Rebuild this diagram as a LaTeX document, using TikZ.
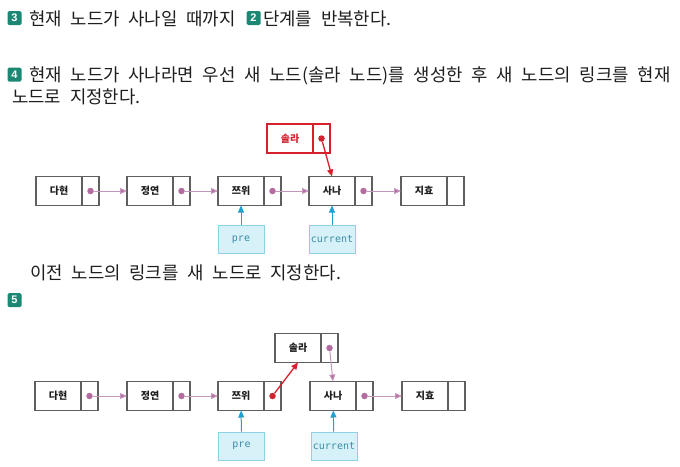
\documentclass[tikz,border=0pt]{standalone}
\usepackage{fontspec}
\setmainfont{Noto Sans CJK KR}
\newfontfamily\bodyfont{Noto Sans CJK KR}[WordSpace=2.2]
\setsansfont{Liberation Sans}
\setmonofont{DejaVu Sans Mono}
\usetikzlibrary{arrows.meta,positioning}
\definecolor{badgegreen}{RGB}{28,135,114}
\definecolor{boxgray}{RGB}{95,95,95}
\definecolor{textgray}{RGB}{30,30,30}
\definecolor{linkline}{RGB}{196,150,188}
\definecolor{linkdot}{RGB}{178,108,160}
\definecolor{solared}{RGB}{214,32,44}
\definecolor{ptrfill}{RGB}{214,241,248}
\definecolor{ptrdraw}{RGB}{140,210,228}
\definecolor{ptrtext}{RGB}{62,140,165}
\definecolor{ptrarrow}{RGB}{32,160,210}
\tikzset{node distance=2pt, auto}

\begin{document}
\begin{tikzpicture}[
  x=1pt, y=-1pt,
  txt/.style={anchor=base west, inner sep=0, text=textgray, font=\bodyfont\fontsize{17.8}{20}\selectfont},
  badge/.style={fill=badgegreen, rounded corners=1.5pt, minimum size=14pt, inner sep=0,
    text=white, font=\sffamily\bfseries\fontsize{11}{11}\selectfont},
  datum/.style={draw=boxgray, line width=1.8pt, outer sep=0, inner sep=0,
    minimum width=46pt, minimum height=29pt, text=textgray, font=\bfseries\fontsize{10}{12}\selectfont},
  link/.style={datum, minimum width=17pt},
  newdatum/.style={datum, draw=solared, text=solared},
  newlink/.style={link, draw=solared},
  ptrbox/.style={draw=ptrdraw, fill=ptrfill, line width=1pt, inner sep=0,
    minimum width=46pt, minimum height=28pt, text=ptrtext, font=\ttfamily\fontsize{10}{11}\selectfont},
  dot/.style={circle, fill=linkdot, inner sep=0, minimum size=6.5pt},
  reddot/.style={dot, fill=solared},
  nextarrow/.style={draw=linkline, line width=1pt, -{Triangle[length=7pt,width=6pt,fill=linkdot]}},
  redarrow/.style={draw=solared, line width=1.3pt, -{Triangle[length=7pt,width=6pt]}},
  ptrarrow/.style={draw=ptrarrow, line width=1pt, -{Triangle[length=7pt,width=6pt]}}
]
\useasboundingbox (0,0) rectangle (680,466);

\node[badge] (s3) at (14.5,18) {3};
\node[txt] (t3a) at (29,25.5) {현재 노드가 사나일 때까지};
\node[badge] (s2) at (253.5,18) {2};
\node[txt] (t3b) at (263,25.5) {단계를 반복한다.};

\node[badge] (s4) at (14.5,74.5) {4};
\node[txt] (t4a) at (29,81.5) {현재 노드가 사나라면 우선 새 노드(솔라 노드)를 생성한 후 새 노드의 링크를 현재};
\node[txt] (t4b) at (12,103) {노드로 지정한다.};

% step 4
\node[datum] (a1) at (59,191) {다현};
\node[link, right=0pt of a1] (ap1) {};
\node[datum] (a2) at (150,191) {정연};
\node[link, right=0pt of a2] (ap2) {};
\node[datum] (a3) at (241,191) {쯔위};
\node[link, right=0pt of a3] (ap3) {};
\node[datum] (a4) at (332,191) {사나};
\node[link, right=0pt of a4] (ap4) {};
\node[datum] (a5) at (424,191) {지효};
\node[link, right=0pt of a5] (ap5) {};
\node[newdatum] (as) at (290,138.5) {솔라};
\node[newlink, right=0pt of as] (asp) {};

\node[dot] (ak1) at (ap1) {};
\node[dot] (ak2) at (ap2) {};
\node[dot] (ak3) at (ap3) {};
\node[dot] (ak4) at (ap4) {};
\node[reddot] (aks) at (asp) {};
\draw[nextarrow] (ak1) -- (a2);
\draw[nextarrow] (ak2) -- (a3);
\draw[nextarrow] (ak3) -- (a4);
\draw[nextarrow] (ak4) -- (a5);
\draw[redarrow] (aks) -- (a4.north);

\node[ptrbox] (apre) at (241,239.5) {pre};
\node[ptrbox] (acur) at (332,239.5) {current};
\draw[ptrarrow] (apre) -- (a3);
\draw[ptrarrow] (acur) -- (a4);

\node[txt] (t4c) at (30,279) {이전 노드의 링크를 새 노드로 지정한다.};
\node[badge] (s5) at (14.5,300) {5};

% step 5
\node[datum] (b1) at (58,396) {다현};
\node[link, right=0pt of b1] (bp1) {};
\node[datum] (b2) at (150,396) {정연};
\node[link, right=0pt of b2] (bp2) {};
\node[datum] (b3) at (241,396) {쯔위};
\node[link, right=0pt of b3] (bp3) {};
\node[datum] (b4) at (333,396) {사나};
\node[link, right=0pt of b4] (bp4) {};
\node[datum] (b5) at (425,396) {지효};
\node[link, right=0pt of b5] (bp5) {};
\node[datum] (bs) at (298,348) {솔라};
\node[link, right=0pt of bs] (bsp) {};

\node[dot] (bk1) at (bp1) {};
\node[dot] (bk2) at (bp2) {};
\node[reddot] (bk3) at (bp3) {};
\node[dot] (bk4) at (bp4) {};
\node[dot] (bks) at (bsp) {};
\draw[nextarrow] (bk1) -- (b2);
\draw[nextarrow] (bk2) -- (b3);
\draw[redarrow] (bk3) -- (bs.south);
\draw[nextarrow] (bk4) -- (b5);
\draw[nextarrow] (bks) -- (b4.north);

\node[ptrbox] (bpre) at (241.5,446) {pre};
\node[ptrbox] (bcur) at (334,446) {current};
\draw[ptrarrow] (bpre) -- (b3);
\draw[ptrarrow] (bcur) -- (b4);
\end{tikzpicture}
\end{document}
